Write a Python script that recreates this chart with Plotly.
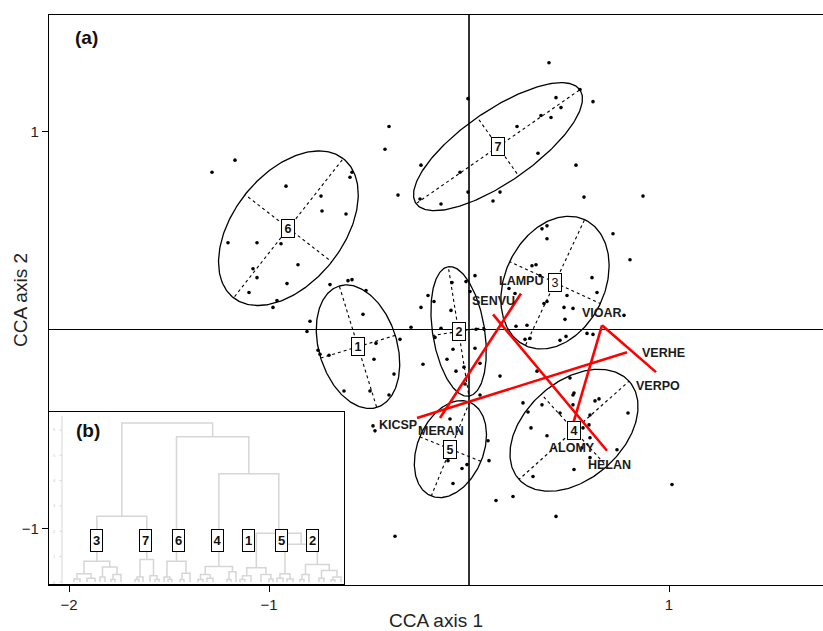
import numpy as np
import plotly.graph_objects as go

# ---- Site scores on CCA axes 1 and 2 ----
site_x = [0.40, 0.62, -0.005, 0.435, 0.46, 0.41, 0.36, 0.24, 0.345, 0.535, 0.575, -0.24, -0.14, 0.12,
          0.155, -0.005, -0.045, -0.245, 0.555, -0.40, -0.42, -1.17, -1.285, -0.915, -0.74, -0.735,
          -0.615, -0.595, -0.585, -1.205, -1.06, -0.94, -0.855, -1.08, -1.06, -1.10, -0.91, -0.96,
          -0.98, -0.355, -0.795, -0.81, -0.29, -0.695, -0.605, -0.585, -0.515, -0.53, -0.755, -0.745,
          -0.70, -0.465, -0.345, -0.475, -0.375, -0.625, -0.495, -0.40, -0.205, -0.175, -0.24, -0.14,
          -0.17, -0.23, -0.11, -0.065, -0.08, -0.025, -0.02, -0.015, 0.005, 0.03, 0.055, 0.035, 0.075,
          -0.085, -0.09, 0.365, 0.39, 0.39, 0.315, 0.335, 0.355, 0.20, 0.23, 0.615, 0.64, 0.49, 0.475,
          0.48, 0.375, 0.29, 0.235, 0.28, 0.305, 0.455, 0.485, 0.59, 0.775, 0.72, 0.805, 0.87, 0.155,
          0.27, 0.365, 0.455, 0.52, 0.52, 0.57, 0.605, 0.795, 0.74, 0.095, 0.10, -0.48, -0.47, -0.095,
          -0.035, -0.01, -0.08, -0.105, 0.135, 0.22, -0.37, 0.055, 0.34, 0.505, 0.525, 0.295, 0.63,
          0.65, 0.31, 0.39, 0.60, 0.605, 0.565, 0.605, 0.525, 0.32, 1.015, 0.435, 0.03, 0.39, 0.52, 0.62]
site_y = [1.346, 1.150, 1.165, 1.170, 1.120, 1.070, 1.080, 1.025, 0.890, 0.830, 0.669, 0.830, 0.634,
          0.649, 0.694, 0.694, 0.794, 0.659, 1.211, 1.025, 0.910, 0.855, 0.794, 0.724, 0.674, 0.599,
          0.584, 0.769, 0.794, 0.439, 0.439, 0.434, 0.328, 0.308, 0.263, 0.188, 0.233, 0.148, 0.113,
          0.679, 0.043, -0.008, 0.013, 0.228, 0.248, 0.253, 0.198, 0.078, -0.103, -0.123, -0.128,
          -0.068, -0.048, -0.148, -0.223, -0.308, -0.308, -0.328, 0.173, 0.143, 0.113, 0.008, -0.038,
          -0.173, -0.148, -0.208, -0.098, -0.188, -0.273, 0.243, 0.193, -0.093, -0.168, 0.003, 0.003,
          0.238, 0.098, 0.509, 0.524, 0.459, 0.323, 0.328, 0.273, 0.208, 0.183, 0.263, 0.188, 0.173,
          0.113, 0.053, 0.133, 0.023, 0.018, -0.048, -0.043, -0.053, -0.033, -0.018, 0.073, 0.484,
          0.353, 0.674, -0.233, -0.368, -0.378, -0.419, -0.328, -0.378, -0.494, -0.429, -0.419, -0.604,
          -0.559, -0.659, -0.484, -0.509, -0.449, -0.699, -0.679, -0.774, -0.659, -0.860, -0.840,
          -1.040, -0.328, -0.208, -0.243, -0.318, -0.414, -0.358, -0.348, -0.494, -0.534, -0.479,
          -0.544, -0.594, -0.644, -0.704, -0.739, -0.779, -0.940, 0.273, 0.143, 0.108, -0.023]

# ---- Group centroids and dispersion ellipses ----
group_id = ["1", "2", "3", "4", "5", "6", "7"]
group_cx = [-0.555, -0.052, 0.43, 0.525, -0.093, -0.903, 0.145]
group_cy = [-0.085, -0.008, 0.238, -0.506, -0.601, 0.512, 0.923]
ell_a = [0.32, 0.33, 0.35, 0.37, 0.255, 0.445, 0.50]      # semi-major axis
ell_b = [0.195, 0.13, 0.25, 0.245, 0.165, 0.275, 0.18]    # semi-minor axis
ell_angle = [107, 99, 65, 42, 68, 52, 35]                 # major-axis direction, degrees

# ---- Species labels ----
species = ["LAMPU", "SENVU", "VIOAR", "VERHE", "VERPO", "KICSP", "MERAN", "ALOMY", "HELAN"]
species_x = [0.26, 0.12, 0.665, 0.97, 0.945, -0.355, -0.14, 0.515, 0.70]
species_y = [0.248, 0.143, 0.083, -0.118, -0.283, -0.479, -0.509, -0.594, -0.679]

# ---- Species pair links ----
link_from_x = [0.26, 0.12, 0.665, 0.665, -0.26]
link_from_y = [0.183, 0.078, 0.023, 0.023, -0.444]
link_to_x = [-0.145, 0.69, 0.51, 0.935, 0.79]
link_to_y = [-0.444, -0.609, -0.509, -0.213, -0.113]

# ---- Cluster dendrogram (panel b): (height, left, right) or leaf position ----
c3 = (0.82, (0.33, (0.12, 27, 33), (0.15, 40, 48)), (0.59, (0.2, 53, 58), (0.3, (0.1, 64, 68), 74)))
c7 = (0.89, (0.2, (0.1, 88, 92), 96), (0.25, 103, (0.1, 108, 112)))
c6 = (0.82, (0.2, 117, (0.1, 121, 125)), (0.35, (0.1, 133, 137), 143))
c4 = (0.61, (0.3, (0.1, 151, 156), (0.15, 160, 166)), (0.4, (0.1, 180, 184), 189))
c1 = (0.56, (0.25, (0.1, 193, 198), 204), (0.3, 214, (0.12, 222, 226)))
c5 = (0.33, (0.15, 230, 236), (0.12, 240, 246))
c2 = (0.69, (0.3, (0.1, 253, 257), 262), (0.45, (0.15, 272, 277), (0.2, (0.08, 284, 288), 294)))
dendro_tree = (6.27, (2.59, c3, c7), (5.73, c6, (4.27, c4, (1.92, c1, (1.49, c5, c2)))))
dendro_labels = ["3", "7", "6", "4", "1", "5", "2"]
dendro_label_x = [49, 99, 132, 171, 202, 235, 266]
dendro_label_h = 1.65
dendro_ticks = [0, 1, 2, 3, 4, 5, 6]

FONT = "Liberation Sans, Arial, sans-serif"
fig = go.Figure()

# sample points
fig.add_trace(go.Scatter(x=site_x, y=site_y, mode="markers",
                         marker=dict(size=3.6, color="black"), hoverinfo="skip"))

# ellipses and their principal axes
ex, ey, ax_x, ax_y = [], [], [], []
t = np.linspace(0, 2 * np.pi, 240)
for cx, cy, a, b, ang in zip(group_cx, group_cy, ell_a, ell_b, ell_angle):
    th = np.deg2rad(ang)
    c, s = np.cos(th), np.sin(th)
    ex += list(cx + a * np.cos(t) * c - b * np.sin(t) * s) + [None]
    ey += list(cy + a * np.cos(t) * s + b * np.sin(t) * c) + [None]
    for dx, dy in [(a * c, a * s), (-a * c, -a * s), (-b * s, b * c), (b * s, -b * c)]:
        ax_x += [cx, cx + dx, None]
        ax_y += [cy, cy + dy, None]
fig.add_trace(go.Scatter(x=ax_x, y=ax_y, mode="lines",
                         line=dict(color="black", width=1.1, dash="3px,3px"), hoverinfo="skip"))
fig.add_trace(go.Scatter(x=ex, y=ey, mode="lines",
                         line=dict(color="black", width=1.3), hoverinfo="skip"))

# species links
lx, ly = [], []
for x0, y0, x1, y1 in zip(link_from_x, link_from_y, link_to_x, link_to_y):
    lx += [x0, x1, None]
    ly += [y0, y1, None]
fig.add_trace(go.Scatter(x=lx, y=ly, mode="lines",
                         line=dict(color="#ff0000", width=2.6), hoverinfo="skip"))

annotations = []
for name, x, y in zip(species, species_x, species_y):
    annotations.append(dict(x=x, y=y, xref="x", yref="y", text=f"<b>{name}</b>", showarrow=False,
                            font=dict(family=FONT, size=12.5, color="#1a1a1a")))

plain_groups = {"3"}
for gid, x, y in zip(group_id, group_cx, group_cy):
    txt = gid if gid in plain_groups else f"<b>{gid}</b>"
    annotations.append(dict(x=x, y=y, xref="x", yref="y", text=txt, showarrow=False,
                            font=dict(family=FONT, size=12.5, color="#111"),
                            bgcolor="white", bordercolor="black", borderwidth=1, borderpad=1,
                            width=10, height=15, valign="bottom"))

annotations.append(dict(x=-1.915, y=1.471, xref="x", yref="y", text="<b>(a)</b>", showarrow=False,
                        font=dict(family=FONT, size=19, color="#111")))

# y-axis title placed next to the tick labels
annotations.append(dict(x=-0.0375, y=0.5, xref="paper", yref="paper", text="CCA axis 2",
                        textangle=-90, showarrow=False, xanchor="center", yanchor="middle",
                        font=dict(family=FONT, size=19, color="#222")))

# ---- inset dendrogram ----
dx_, dy_ = [], []


def draw(node):
    if not isinstance(node, tuple):
        return float(node), 0.0
    h, left, right = node
    xl, hl = draw(left)
    xr, hr = draw(right)
    dx_.extend([xl, xl, xr, xr, None])
    dy_.extend([hl, h, h, hr, None])
    return (xl + xr) / 2, h


draw(dendro_tree)
grey = "#d6d6d6"
# faint height axis
axx, axy = [15, 15, None], [-0.05, 6.55, None]
for tk in dendro_ticks:
    axx += [12.5, 15, None]
    axy += [tk, tk, None]
fig.add_trace(go.Scatter(x=axx, y=axy, mode="lines", line=dict(color="#dddddd", width=1.2),
                         xaxis="x2", yaxis="y2", hoverinfo="skip"))
fig.add_trace(go.Scatter(x=dx_, y=dy_, mode="lines", line=dict(color=grey, width=1.5),
                         xaxis="x2", yaxis="y2", hoverinfo="skip"))
for tk in dendro_ticks:
    annotations.append(dict(x=7, y=tk, xref="x2", yref="y2", text=str(tk), showarrow=False,
                            font=dict(family=FONT, size=4, color="#c8c8c8")))
for lab, x in zip(dendro_labels, dendro_label_x):
    annotations.append(dict(x=x, y=dendro_label_h, xref="x2", yref="y2", text=f"<b>{lab}</b>",
                            showarrow=False, font=dict(family=FONT, size=13, color="#111"),
                            bgcolor="white", bordercolor="black", borderwidth=1, borderpad=1,
                            width=9, height=19))
annotations.append(dict(x=41, y=5.96, xref="x2", yref="y2", text="<b>(b)</b>", showarrow=False,
                        font=dict(family=FONT, size=19, color="#111")))

fig.update_layout(
    width=823, height=631,
    margin=dict(l=49, r=0, t=15, b=43),
    paper_bgcolor="white", plot_bgcolor="white",
    showlegend=False,
    font=dict(family=FONT, color="#222"),
    annotations=annotations,
    xaxis=dict(range=[-2.1, 1.77], domain=[0, 1], tickvals=[-2, -1, 1], ticks="outside", ticklen=6,
               tickcolor="black", tickfont=dict(size=15, color="#222"), showgrid=False,
               showline=True, mirror=True, linecolor="black", linewidth=1.3,
               zeroline=True, zerolinecolor="#333", zerolinewidth=1.8,
               title=dict(text="CCA axis 1", font=dict(size=19, color="#222"), standoff=5)),
    yaxis=dict(range=[-1.2857, 1.5865], domain=[0, 1], tickvals=[-1, 1], ticks="outside", ticklen=6,
               tickcolor="black", tickfont=dict(size=15, color="#222"), showgrid=False,
               showline=True, mirror=False, linecolor="black", linewidth=1.3,
               zeroline=True, zerolinecolor="black", zerolinewidth=1.2),
    xaxis2=dict(range=[2, 297], domain=[0, 0.3811], anchor="y2", showticklabels=False, ticks="",
                showgrid=False, zeroline=False, showline=True, mirror=True, linecolor="black",
                linewidth=1.3),
    yaxis2=dict(range=[-0.08, 6.71], domain=[0.0017, 0.3037], anchor="x2", showticklabels=False,
                ticks="", showgrid=False, zeroline=False, showline=True, mirror=True,
                linecolor="black", linewidth=1.3),
)

fig.write_html("out.html")
